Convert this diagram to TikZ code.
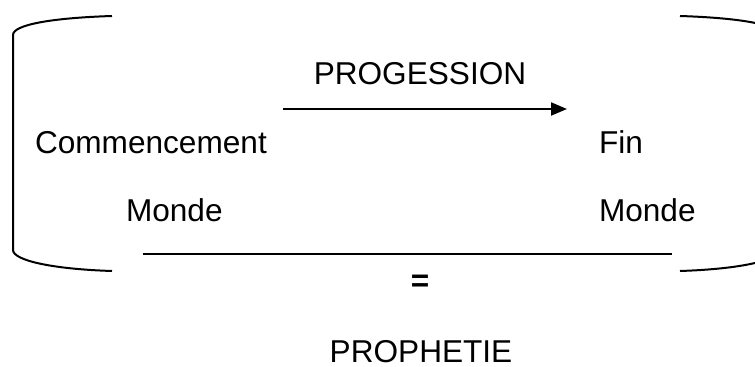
\documentclass[tikz,border=0pt]{standalone}
\usepackage{fontspec}
\setmainfont{Liberation Sans}
\usepackage{tikz}
\usetikzlibrary{arrows.meta,positioning}

\begin{document}
\begin{tikzpicture}[x=0.5pt, y=-0.5pt, line width=1pt,
  every node/.style={font=\fontsize{15.8}{18}\selectfont, inner sep=0pt},
  wordlbl/.style={anchor=base west},
  midlbl/.style={anchor=base},
  arr/.style={-{Triangle[length=8pt,width=6.5pt]}},
  brk/.style={line width=1pt}]
\useasboundingbox (0,0) rectangle (755,367);
\clip (0,0) rectangle (755,367);
% left and right brackets
\draw[brk] (112,16) .. controls (50,18) and (13,25) .. (13,35) -- (13,250) .. controls (13,260) and (50,269) .. (112,271);
\draw[brk] (680,16) .. controls (742,18) and (779,25) .. (779,35) -- (779,250) .. controls (779,260) and (742,269) .. (680,271);
% texts
\node[midlbl] (prog) at (420,85) {PROGESSION};
\node[wordlbl] (debut) at (34,154) {Commencement};
\node[wordlbl] (fin) at (598,154) {Fin};
\node[wordlbl] (mondeA) at (125,222) {Monde};
\node[wordlbl] (mondeB) at (598,222) {Monde};
\node[font=\fontsize{15.8}{18}\selectfont\bfseries] (egal) at (420,283) {=};
\node[midlbl] (proph) at (421,363) {PROPHETIE};
% arrow and line
\coordinate (arrA) at (283,109);
\coordinate (arrB) at (567,109);
\coordinate (lineA) at (143,254);
\coordinate (lineB) at (672,254);
\draw[arr] (arrA) -- (arrB);
\draw (lineA) -- (lineB);
\end{tikzpicture}
\end{document}
